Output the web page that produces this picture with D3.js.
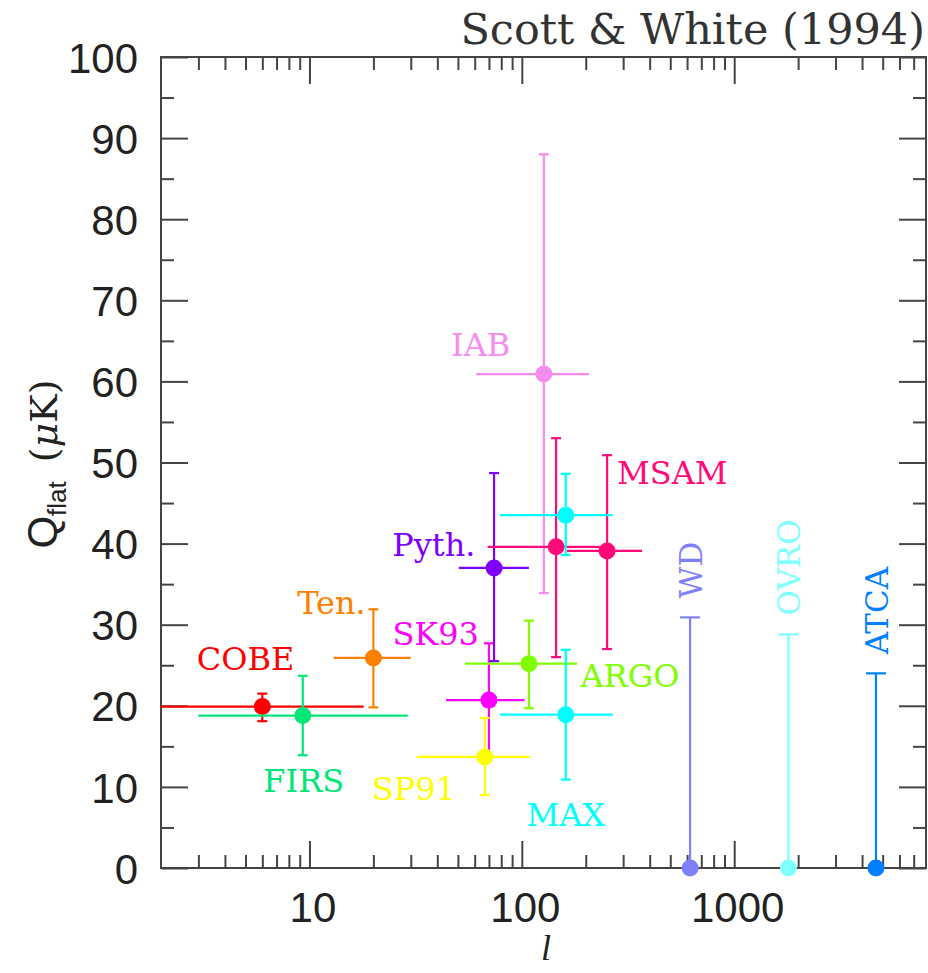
<!DOCTYPE html>
<html>
<head>
<meta charset="utf-8">
<script src="https://cdn.jsdelivr.net/npm/d3@7"></script>
<style>
  body { margin: 0; background: #fff; }
  .axis path { display: none; }
  .axis line { stroke: #444; stroke-width: 2; }
  .axis text { font-family: "Liberation Sans", Arial, sans-serif; font-size: 42px; fill: #222; }
  .lab { font-family: "DejaVu Serif", serif; font-size: 32px; }
</style>
</head>
<body>
<div id="chart"></div>
<script>
// measured points (multipole l, Q_flat in microK)
const experiments = ["COBE", "FIRS", "Ten.", "SK93", "SP91", "Pyth.", "ARGO", "IAB", "MSAM", "MSAM", "MAX", "MAX"];
const ell   = [6, 9.3, 20, 70, 67, 74, 108, 127, 145, 252, 161, 161];
const ellLo = [2, 3, 13, 44, 32, 50.5, 54, 61, 69, 163, 79, 79];
const ellHi = [18, 29, 30, 103, 109, 108, 182, 207, 233, 368, 268, 268];
const qFlat = [19.9, 18.8, 25.9, 20.7, 13.7, 37, 25.2, 60.9, 39.6, 39.1, 43.5, 18.9];
const qLo   = [18.1, 13.9, 19.8, 13.7, 9.0, 25.5, 19.7, 33.9, 26.0, 27.0, 38.6, 10.9];
const qHi   = [21.5, 23.7, 31.9, 27.7, 18.5, 48.7, 30.5, 88, 53.0, 50.9, 48.6, 26.9];
const colors = ["#ff0000", "#00e676", "#ff8000", "#ff00ff", "#ffff00", "#8000ff", "#80ff00", "#f78cf0", "#ff0a78", "#ff0a78", "#00ffff", "#00ffff"];

// upper limits
const limitNames  = ["WD", "OVRO", "ATCA"];
const limitEll    = [620, 1800, 4650];
const limitQ      = [30.9, 28.8, 24];
const limitColors = ["#8080ff", "#80ffff", "#0080ff"];

// annotation anchors (data coords)
const labelText  = ["COBE", "FIRS", "Ten.", "SK93", "SP91", "Pyth.", "ARGO", "IAB", "MSAM", "MAX"];
const labelEll   = [5.0, 9.4, 12.7, 39.3, 31, 38.5, 323, 64, 511, 161];
const labelQ     = [24.4, 9.4, 31.3, 27.5, 8.4, 38.5, 22.3, 63.1, 47.3, 5.2];
const labelColor = ["#ff0000", "#00e676", "#ff8000", "#ff00ff", "#ffff00", "#8000ff", "#80ff00", "#f78cf0", "#ff0a78", "#00ffff"];

const xMajor = [10, 100, 1000];
const yMajor = d3.range(0, 101, 10);
const yMinor = d3.range(5, 100, 10);

const width = 928, height = 973;
const mLeft = 161, mRight = 926, mTop = 57, mBottom = 868;

const svg = d3.select('#chart').append('svg')
  .attr('width', width)
  .attr('height', height);

const x = d3.scaleLog().domain([2, 8000]).range([mLeft, mRight]);
const y = d3.scaleLinear().domain([0, 100]).range([mBottom, mTop]);

const xMinor = x.ticks().filter(d => !xMajor.includes(d) && d > 2 && d < 8000);

svg.append('clipPath').attr('id', 'clip')
  .append('rect')
  .attr('x', mLeft).attr('y', mTop)
  .attr('width', mRight - mLeft).attr('height', mBottom - mTop);

// axes: major / minor ticks on all four sides
function addAxis(axisFn, pos, values, size, labels) {
  const ax = axisFn.tickValues(values).tickSizeInner(-size).tickSizeOuter(0).tickPadding(labels ? 16 : 0);
  if (!labels) ax.tickFormat('');
  else ax.tickFormat(d3.format('d'));
  return svg.append('g').attr('class', 'axis').attr('transform', pos).call(ax);
}
const xAxisG = addAxis(d3.axisBottom(x), `translate(0,${mBottom})`, xMajor, 27, true);
addAxis(d3.axisBottom(x), `translate(0,${mBottom})`, xMinor, 13, false);
addAxis(d3.axisTop(x), `translate(0,${mTop})`, xMajor, 27, false);
addAxis(d3.axisTop(x), `translate(0,${mTop})`, xMinor, 13, false);
const yAxisG = addAxis(d3.axisLeft(y), `translate(${mLeft},0)`, yMajor, 27, true);
addAxis(d3.axisLeft(y), `translate(${mLeft},0)`, yMinor, 13, false);
addAxis(d3.axisRight(y), `translate(${mRight},0)`, yMajor, 27, false);
addAxis(d3.axisRight(y), `translate(${mRight},0)`, yMinor, 13, false);

xAxisG.selectAll('text').attr('dy', null).attr('y', 54).attr('dx', 3);
yAxisG.selectAll('text').attr('x', -23).attr('dy', '0.36em');

svg.append('rect')
  .attr('x', mLeft).attr('y', mTop)
  .attr('width', mRight - mLeft).attr('height', mBottom - mTop)
  .attr('fill', 'none').attr('stroke', '#444').attr('stroke-width', 2);

// data
const plot = svg.append('g').attr('clip-path', 'url(#clip)');
const pts = experiments.map((name, i) => ({ name, l: ell[i], lLo: ellLo[i], lHi: ellHi[i], q: qFlat[i], qLo: qLo[i], qHi: qHi[i], c: colors[i] }));

const g = plot.selectAll('g.pt').data(pts).enter().append('g').attr('class', 'pt');
g.append('line')
  .attr('x1', d => x(d.lLo)).attr('x2', d => x(d.lHi))
  .attr('y1', d => y(d.q)).attr('y2', d => y(d.q))
  .attr('stroke', d => d.c).attr('stroke-width', 2.2);
g.append('line')
  .attr('x1', d => x(d.l)).attr('x2', d => x(d.l))
  .attr('y1', d => y(d.qLo)).attr('y2', d => y(d.qHi))
  .attr('stroke', d => d.c).attr('stroke-width', 2.2);
g.selectAll('line.cap').data(d => [[d, d.qLo], [d, d.qHi]]).enter().append('line')
  .attr('class', 'cap')
  .attr('x1', d => x(d[0].l) - 5).attr('x2', d => x(d[0].l) + 5)
  .attr('y1', d => y(d[1])).attr('y2', d => y(d[1]))
  .attr('stroke', d => d[0].c).attr('stroke-width', 2.2);
g.append('circle')
  .attr('cx', d => x(d.l)).attr('cy', d => y(d.q)).attr('r', 8.5)
  .attr('fill', d => d.c);

// upper limits
const lims = limitNames.map((name, i) => ({ name, l: limitEll[i], q: limitQ[i], c: limitColors[i] }));
const lg = svg.selectAll('g.lim').data(lims).enter().append('g').attr('class', 'lim');
lg.append('line')
  .attr('x1', d => x(d.l)).attr('x2', d => x(d.l))
  .attr('y1', y(0)).attr('y2', d => y(d.q))
  .attr('stroke', d => d.c).attr('stroke-width', 2.2);
lg.append('line')
  .attr('x1', d => x(d.l) - 10).attr('x2', d => x(d.l) + 10)
  .attr('y1', d => y(d.q)).attr('y2', d => y(d.q))
  .attr('stroke', d => d.c).attr('stroke-width', 2.2);
lg.append('circle')
  .attr('cx', d => x(d.l)).attr('cy', y(0)).attr('r', 8.5)
  .attr('fill', d => d.c);
lg.append('text')
  .attr('class', 'lab')
  .attr('transform', d => `translate(${x(d.l) + 12},${y(d.q) - 19}) rotate(-90)`)
  .attr('fill', d => d.c)
  .style('font-size', '31px')
  .text(d => d.name);

// labels
svg.selectAll('text.name').data(labelText).enter().append('text')
  .attr('class', 'lab name')
  .attr('x', (d, i) => x(labelEll[i]))
  .attr('y', (d, i) => y(labelQ[i]))
  .attr('text-anchor', 'middle')
  .attr('fill', (d, i) => labelColor[i])
  .text(d => d);

// title
svg.append('text')
  .attr('x', 925).attr('y', 44)
  .attr('text-anchor', 'end')
  .style('font-family', '"DejaVu Serif", serif')
  .style('font-size', '43px')
  .attr('fill', '#333')
  .text('Scott & White (1994)');

// x label
svg.append('text')
  .attr('x', 546).attr('y', 960)
  .attr('text-anchor', 'middle')
  .style('font-family', '"Liberation Serif", serif')
  .style('font-style', 'italic')
  .style('font-size', '36px')
  .attr('fill', '#222')
  .text('l');

// y label
const yl = svg.append('text')
  .attr('transform', 'translate(57,464) rotate(-90)')
  .attr('text-anchor', 'middle')
  .attr('fill', '#222');
yl.append('tspan').style('font-family', '"Liberation Sans", sans-serif').style('font-size', '42px').text('Q');
yl.append('tspan').style('font-family', '"Liberation Sans", sans-serif').style('font-size', '26px').attr('dy', 9).text('flat');
yl.append('tspan').style('font-family', '"DejaVu Serif", serif').style('font-size', '38px').attr('dy', -9).text('\u2002(');
yl.append('tspan').style('font-family', '"DejaVu Serif", serif').style('font-size', '38px').style('font-style', 'italic').text('\u03bc');
yl.append('tspan').style('font-family', '"DejaVu Serif", serif').style('font-size', '38px').text('K)');
</script>
</body>
</html>
